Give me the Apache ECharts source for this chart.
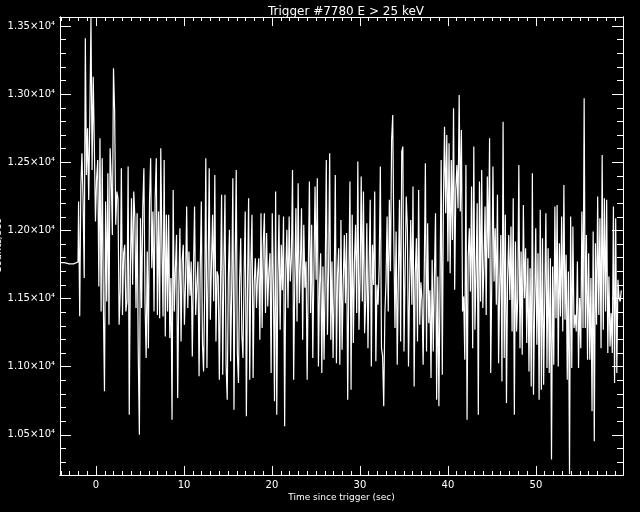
<!DOCTYPE html>
<html><head><meta charset="utf-8">
<script src="https://cdn.jsdelivr.net/npm/echarts@6/dist/echarts.min.js"></script>
<style>html,body{margin:0;padding:0;background:#000;}#c{width:640px;height:512px;}</style>
</head><body><div id="c"></div>
<script>
const titleText = 'Trigger #7780 E > 25 keV';
const xName = 'Time since trigger (sec)';
const yName = 'Counts/sec';
const preTimes = [-4.096, -3.072, -2.048];
const preRates = [11763, 11754, 11768];
const binStart = -1.92;
const binWidth = 0.128;
const rates = [
12212,11370,12320,12566,12212,11650,13410,12407,12750,12224,
12835,13560,12444,13128,12615,12065,12383,12517,11589,12676,
11405,12530,11454,10819,12212,11478,12420,11307,12603,12383,
11967,13189,12884,12041,12285,12236,11307,11552,12456,11380,
11833,11894,11405,11478,12468,10648,11723,12236,11601,12285,
12090,11430,12126,11088,10501,12090,11430,12163,12456,11478,
11063,11845,11136,12212,12530,11723,12138,11405,12236,12530,
11380,12138,11356,12603,11894,11368,12517,11222,12114,11405,
12114,11210,11650,10611,12297,11405,11720,11967,10770,11560,
12016,11185,11780,11894,11307,11620,12175,11430,11845,11520,
11772,11075,11690,12175,11380,11600,11772,10929,11700,12212,
11173,10965,11540,12530,10990,11660,12456,11344,11750,12114,
11480,12407,11185,11700,11662,10904,11580,12261,10941,11720,
12261,11014,10758,11650,12004,11039,11590,12383,10684,11700,
12444,11100,10880,11620,11943,11234,11063,11680,12138,10636,
11560,12236,10904,11750,12114,10916,11620,11796,11430,11680,
11796,11197,12126,11283,11894,
12126,11393,11980,11441,11700,11833,10953,12126,11600,10746,
12285,10648,11650,12114,11271,11894,11560,12102,10562,11700,
12004,11430,12102,11625,11800,12444,10904,11620,12163,11332,
12346,11466,11750,12163,11197,12041,11580,11772,10904,11680,
12358,11393,12041,11063,11720,12322,11637,12383,11002,11600,
11833,10953,11735,11051,11650,12517,11234,11700,12566,11197,
11772,11063,11560,12407,11026,11680,11869,11014,12077,11124,
11600,11967,11466,11980,10758,11620,12358,10831,12114,11173,
11772,12041,11393,
12505,11271,11650,12395,11478,12285,11246,11478,12053,11136,
11700,12224,11002,11894,11600,12285,11039,11601,11454,11750,
12468,11136,11075,10709,11380,11620,12102,11405,12224,11700,
12664,12847,11918,11283,11992,11014,11650,12224,11185,12578,
12615,11112,11700,12249,12016,11002,11600,12077,11454,12322,
10855,11680,11943,11185,12297,11307,11620,11490,11014,11700,
12493,11112,12053,11319,11560,10916,11784,11112,11650,12126,
10758,11662,10709,11600,12517,10941,12200,12761,12126,12700,
11772,12639,11686,
12517,11930,12896,11564,12300,12480,12163,12994,12138,12737,
11405,11515,11051,12480,10611,11800,12016,11552,12322,11136,
12615,11271,11700,12200,10648,12358,11478,12444,11430,11750,
12175,11380,12395,11796,12676,10953,11650,12468,11625,12016,
11454,12261,11026,11600,11967,10892,12798,11063,12114,10733,
11650,11967,11490,12029,11258,12236,10648,11918,11258,11500,
12480,11136,11845,11088,12187,11503,11869,11173,11796,10965,
11723,10855,12420,10794,11450,12016,11161,11833,10758,12151,
10831,11943,10867,11515,
12126,10990,11869,10953,11796,10318,11735,11014,12175,11356,
12187,11002,11906,11368,12102,11258,12334,11344,11821,10904,
11698,10210,12102,10990,12029,11283,11380,11258,11772,10990,
11503,11136,12138,11283,12969,11283,11967,11051,11833,11051,
11650,10672,11992,10452,11906,11307,12249,11380,12090,11136,
12554,11271,12236,11405,12224,11100,11662,11148,11393,11100,
12175,10880,12090,10953,11637,11503,11478,11560
];
const xRange = [-4.096, 59.904];
const yRange = [10205, 13566];
const xMajor = [0, 10, 20, 30, 40, 50];
const xMinor = [-4,-3,-2,-1,1,2,3,4,5,6,7,8,9,11,12,13,14,15,16,17,18,19,21,22,23,24,25,26,27,28,29,31,32,33,34,35,36,37,38,39,41,42,43,44,45,46,47,48,49,51,52,53,54,55,56,57,58,59];
const yMajor = [10500, 11000, 11500, 12000, 12500, 13000, 13500];
const yMinor = [10300,10400,10600,10700,10800,10900,11100,11200,11300,11400,11600,11700,11800,11900,12100,12200,12300,12400,12600,12700,12800,12900,13100,13200,13300,13400];

const seriesData = preTimes.map((t, i) => [t, preRates[i]])
  .concat(rates.map((v, k) => [binStart + k * binWidth, v]));

const W = '#ffffff';
const FONT = 'DejaVu Sans';
function xAx(pos, ticks, len, withLabel) {
  return {
    type: 'value', position: pos, min: xRange[0], max: xRange[1],
    axisLine: { show: true, onZero: false, lineStyle: { color: W, width: 1 } },
    axisTick: { show: true, inside: true, length: len, customValues: ticks, lineStyle: { color: W, width: 1 } },
    axisLabel: withLabel ? { show: true, customValues: xMajor, color: W, fontSize: 10, fontFamily: FONT, margin: 5 } : { show: false },
    splitLine: { show: false },
    name: withLabel ? xName : '', nameLocation: 'middle', nameGap: 18, nameMoveOverlap: false,
    nameTextStyle: { color: W, fontSize: 9, fontFamily: FONT }
  };
}
function yAx(pos, ticks, len, withLabel) {
  return {
    type: 'value', position: pos, min: yRange[0], max: yRange[1],
    axisLine: { show: true, onZero: false, lineStyle: { color: W, width: 1 } },
    axisTick: { show: true, inside: true, length: len, customValues: ticks, lineStyle: { color: W, width: 1 } },
    axisLabel: withLabel ? { show: true, customValues: yMajor, color: W, fontSize: 10, fontFamily: FONT, margin: 5,
      formatter: v => (v / 10000).toFixed(2) + '×10⁴' } : { show: false },
    splitLine: { show: false },
    name: withLabel ? yName : '', nameLocation: 'middle', nameGap: 57, nameRotate: 90, nameMoveOverlap: false,
    nameTextStyle: { color: W, fontSize: 10, fontFamily: FONT }
  };
}

const chart = echarts.init(document.getElementById('c'), null, { renderer: 'canvas' });
chart.setOption({
  backgroundColor: '#000',
  animation: false,
  title: { text: titleText, left: 341, textAlign: 'center', top: 1,
    textStyle: { color: W, fontSize: 12, fontWeight: 'normal', fontFamily: FONT } },
  grid: { left: 60, right: 17, top: 17, bottom: 37, containLabel: false, outerBoundsMode: 'none' },
  xAxis: [ xAx('bottom', xMajor, 9, true), xAx('bottom', xMinor, 4, false), xAx('top', xMajor, 9, false), xAx('top', xMinor, 4, false) ],
  yAxis: [ yAx('left', yMajor, 11, true), yAx('left', yMinor, 6, false), yAx('right', yMajor, 11, false), yAx('right', yMinor, 6, false) ],
  series: [{
    type: 'line', step: 'middle', data: seriesData, xAxisIndex: 0, yAxisIndex: 0,
    showSymbol: false, symbol: 'none', clip: true,
    lineStyle: { color: W, width: 1.2 }
  }]
});
</script>
</body></html>
